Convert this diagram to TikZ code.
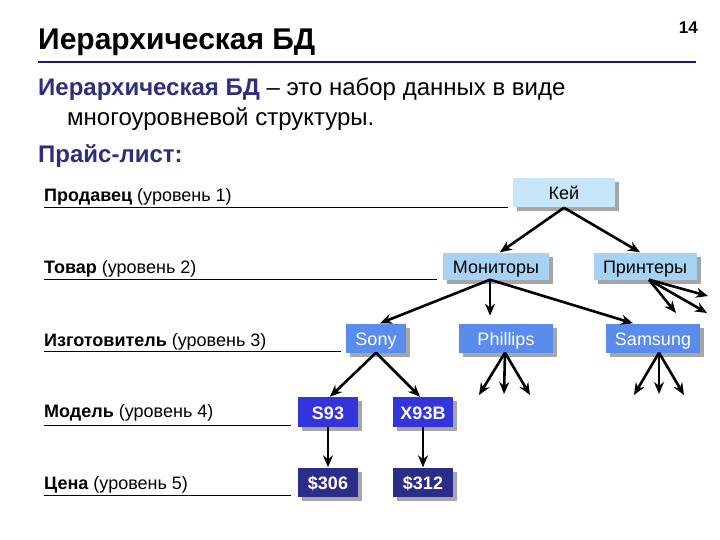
\documentclass[tikz,border=0pt]{standalone}
\usepackage{fontspec}
\setmainfont{Liberation Sans}
\usetikzlibrary{arrows.meta,shadows}
\definecolor{navy}{HTML}{1A1A6E}
\definecolor{ttl}{HTML}{2E2E80}
\definecolor{lb1}{HTML}{C8E6FA}
\definecolor{lb2}{HTML}{A6D2F4}
\definecolor{mb}{HTML}{5A8CEE}
\definecolor{db}{HTML}{3434DC}
\definecolor{ddb}{HTML}{2C2C8A}
\tikzset{
 box/.style={minimum height=29pt,inner sep=0pt,text height=15pt,text depth=1pt,font=\fontsize{18}{20}\selectfont,
   drop shadow={shadow xshift=4pt,shadow yshift=-4pt,fill=gray!70,opacity=1}},
 l1/.style={box,fill=lb1},
 l2/.style={box,fill=lb2},
 l3/.style={box,fill=mb,text=white},
 l4/.style={box,fill=db,text=white,font=\fontsize{18}{20}\selectfont\bfseries},
 l5/.style={box,fill=ddb,text=white,font=\fontsize{18}{20}\selectfont\bfseries},
 ar/.style={line width=2.6pt,-{Stealth[length=12pt,width=10pt]}},
 lvl/.style={anchor=base west,inner sep=0pt,font=\fontsize{18}{20}\selectfont},
}
\begin{document}
\begin{tikzpicture}[x=1pt,y=-1pt]
\useasboundingbox (0,0) rectangle (720,540);
\node[anchor=base west,inner sep=0pt,font=\fontsize{30}{33}\selectfont\bfseries] (t) at (38,50) {Иерархическая БД};
\node[anchor=base east,inner sep=0pt,font=\fontsize{17}{19}\selectfont\bfseries] (pn) at (698,34) {14};
\draw[navy,line width=2.5pt] (38,62) -- (696,62);
\node[anchor=base west,inner sep=0pt,font=\fontsize{24}{28}\selectfont] (d1) at (38,96) {\textcolor{ttl}{\bfseries Иерархическая БД} – это набор данных в виде};
\node[anchor=base west,inner sep=0pt,font=\fontsize{24}{28}\selectfont] (d2) at (67,126) {многоуровневой структуры.};
\node[anchor=base west,inner sep=0pt,font=\fontsize{24}{28}\selectfont\bfseries,text=ttl] (pl) at (38,163) {Прайс-лист:};
% levels
\node[lvl] (v1) at (44,202) {\bfseries Продавец \mdseries(уровень 1)};
\node[lvl] (v2) at (44,273) {\bfseries Товар \mdseries(уровень 2)};
\node[lvl] (v3) at (44,346) {\bfseries Изготовитель \mdseries(уровень 3)};
\node[lvl] (v4) at (44,417) {\bfseries Модель \mdseries(уровень 4)};
\node[lvl] (v5) at (44,489) {\bfseries Цена \mdseries(уровень 5)};
\coordinate (e1) at (508,207); \coordinate (e2) at (437,279); \coordinate (e3) at (341,351);
\coordinate (e4) at (291,425); \coordinate (e5) at (291,495);
\foreach \i/\y in {1/207,2/279,3/351,4/425,5/495} \draw[line width=0.9pt] (44,\y) -- (e\i);
% nodes
\node[l1,minimum width=102pt] (kei) at (564,193) {Кей};
\node[l2,minimum width=106pt,minimum height=27pt] (mon) at (496,266) {Мониторы};
\node[l2,minimum width=103pt,minimum height=27pt] (pri) at (645,266) {Принтеры};
\node[l3,minimum width=60pt] (sony) at (376,338) {Sony};
\node[l3,minimum width=94pt] (phil) at (506,338) {Phillips};
\node[l3,minimum width=94pt] (sam) at (653,338) {Samsung};
\node[l4,minimum width=60pt,minimum height=30pt] (s93) at (328,412) {S93};
\node[l4,minimum width=60pt,minimum height=30pt] (x93) at (423,412) {X93B};
\node[l5,minimum width=60pt] (p306) at (328,482) {\$306};
\node[l5,minimum width=60pt] (p312) at (423,482) {\$312};
% arrows
\draw[ar] (kei.south) -- ([xshift=4pt]mon.north);
\draw[ar] (kei.south) -- ([xshift=-5pt]pri.north);
\draw[ar] ([xshift=-6pt]mon.south) -- ([xshift=4pt]sony.north);
\draw[ar] ([xshift=-6pt]mon.south) -- ++(0,36);
\draw[ar] ([xshift=-6pt]mon.south) -- ([xshift=-20pt]sam.north);
\draw[ar] (sony.south) -- ([xshift=2pt]s93.north);
\draw[ar] (sony.south) -- ([xshift=-3pt]x93.north);
\draw[ar] (s93.south) -- (p306.north);
\draw[ar] (x93.south) -- (p312.north);
\coordinate (pa1) at (676,313); \coordinate (pa2) at (708,296); \coordinate (pa3) at (707,313);
\foreach \c in {pa1,pa2,pa3} \draw[ar] ([xshift=4pt]pri.south) -- (\c);
\coordinate (ph1) at (479,395); \coordinate (ph2) at (504,394); \coordinate (ph3) at (530,395);
\foreach \c in {ph1,ph2,ph3} \draw[ar] ([xshift=-1pt]phil.south) -- (\c);
\coordinate (sa1) at (634,395); \coordinate (sa2) at (659,394); \coordinate (sa3) at (684,395);
\foreach \c in {sa1,sa2,sa3} \draw[ar] ([xshift=6pt]sam.south) -- (\c);
\end{tikzpicture}
\end{document}
